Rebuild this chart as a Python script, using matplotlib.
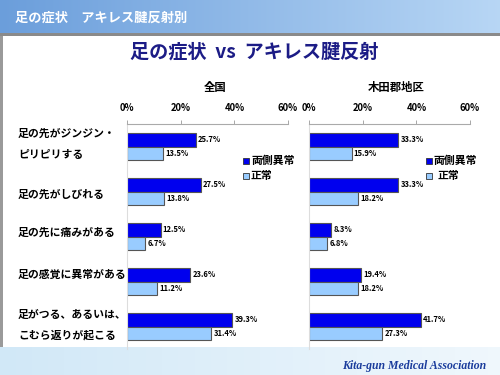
import numpy as np
import matplotlib
matplotlib.use("Agg")
import matplotlib.pyplot as plt
from matplotlib.patches import Rectangle

plt.rcParams['font.family'] = ['Noto Sans CJK JP', 'DejaVu Sans']

categories = ["足の先がジンジン・\nピリピリする", "足の先がしびれる", "足の先に痛みがある",
              "足の感覚に異常がある", "足がつる、あるいは、\nこむら返りが起こる"]
series_names = ["両側異常", "正常"]
zenkoku_abnormal = [25.7, 27.5, 12.5, 23.6, 39.3]
zenkoku_normal = [13.5, 13.8, 6.7, 11.2, 31.4]
kita_abnormal = [33.3, 33.3, 8.3, 19.4, 41.7]
kita_normal = [15.9, 18.2, 6.8, 18.2, 27.3]
panel_titles = ["全国", "木田郡地区"]
xticks = [0, 20, 40, 60]
xtick_labels = ["0%", "20%", "40%", "60%"]

dark = "#0000EE"
light = "#99CCFF"
edge = "#555555"

W, H = 500, 375
fig = plt.figure(figsize=(5, 3.75), dpi=100)

def fx(px):
    return px / W

def fy(py):
    return 1 - py / H

# Background decoration
bg = fig.add_axes([0, 0, 1, 1], zorder=-10)
bg.axis('off')
grad = np.linspace(0, 1, 256)
hdr = np.zeros((1, 256, 3))
c1 = np.array([0.42, 0.62, 0.86])
c2 = np.array([0.72, 0.84, 0.96])
for i in range(3):
    hdr[0, :, i] = c1[i] + (c2[i] - c1[i]) * grad
bg.imshow(hdr, extent=[0, W, 34, 0], aspect='auto')
bg.add_patch(Rectangle((0, 33), W, 3, color="#8a8a8a", lw=0))
bot = np.zeros((1, 256, 3))
b1 = np.array([0.82, 0.91, 0.97])
b2 = np.array([0.94, 0.97, 0.99])
for i in range(3):
    bot[0, :, i] = b1[i] + (b2[i] - b1[i]) * grad
bg.imshow(bot, extent=[0, W, H, 347], aspect='auto')
bg.add_patch(Rectangle((0, 36), W, 311, color="white", lw=0))
bg.add_patch(Rectangle((0, 36), 3, 311, color="#9a9a9a", lw=0))
bg.set_xlim(0, W)
bg.set_ylim(H, 0)

fig.text(fx(15), fy(18), "足の症状　アキレス腱反射別", color="white", fontsize=9.5,
         fontweight='bold', va='center', ha='left')
fig.text(fx(254), fy(52), "足の症状  vs  アキレス腱反射", color="#1C1C86", fontsize=13.8,
         fontweight='bold', va='center', ha='center')
fig.text(fx(486), fy(366), "Kita-gun Medical Association", color="#1a3c9c", fontsize=8.5,
         fontstyle='italic', fontweight='bold', family=['Liberation Serif', 'DejaVu Serif'],
         va='center', ha='right')

# category labels
label_y = [None, 195, 233, 275, None]
fig.text(fx(18), fy(134), "足の先がジンジン・", fontsize=7.8, fontweight='bold', va='center', ha='left')
fig.text(fx(18), fy(155), "ピリピリする", fontsize=7.8, fontweight='bold', va='center', ha='left')
for i in (1, 2, 3):
    fig.text(fx(18), fy(label_y[i]), categories[i], fontsize=7.8, fontweight='bold', va='center', ha='left')
fig.text(fx(18), fy(315), "足がつる、あるいは、", fontsize=7.8, fontweight='bold', va='center', ha='left')
fig.text(fx(18), fy(335), "こむら返りが起こる", fontsize=7.8, fontweight='bold', va='center', ha='left')

top_px, bot_px = 124, 349
panels = [
    (127, 288, zenkoku_abnormal, zenkoku_normal, panel_titles[0], 215, 243, 8),
    (309, 470, kita_abnormal, kita_normal, panel_titles[1], 396, 426, 12),
]
h = 0.31
y = np.arange(len(categories))
for (x0, x1, ab, no, title, tx, lx, gap2) in panels:
    ax = fig.add_axes([fx(x0), fy(bot_px), (x1 - x0) / W, (bot_px - top_px) / H])
    ax.patch.set_alpha(0)
    ax.barh(y - h / 2, ab, height=h, color=dark, edgecolor=edge, linewidth=0.8)
    ax.barh(y + h / 2, no, height=h, color=light, edgecolor=edge, linewidth=0.8)
    for yi, v in zip(y, ab):
        ax.text(v + 0.8, yi - h / 2, f"{v:.1f}%", fontsize=5.5, fontweight='bold',
                va='center', ha='left')
    for yi, v in zip(y, no):
        ax.text(v + 0.8, yi + h / 2, f"{v:.1f}%", fontsize=5.5, fontweight='bold',
                va='center', ha='left')
    ax.set_xlim(0, 60)
    ax.set_ylim(len(categories) - 0.5, -0.5)
    ax.xaxis.tick_top()
    ax.set_xticks(xticks)
    ax.set_xticklabels(xtick_labels, fontsize=6.8, fontweight='bold')
    ax.tick_params(axis='x', direction='out', length=3, width=0.6, color="#999999", pad=5)
    ax.set_yticks([])
    for s in ('right', 'bottom'):
        ax.spines[s].set_visible(False)
    ax.spines['top'].set_color("#aaaaaa")
    ax.spines['top'].set_linewidth(0.8)
    ax.spines['left'].set_color("#dddddd")
    ax.spines['left'].set_linewidth(0.8)
    fig.text(fx(tx), fy(88), title, fontsize=8.2, fontweight='bold', ha='center', va='center')
    for k, (name, col) in enumerate(zip(series_names, [dark, light])):
        yy = 161 + k * 15
        bg.add_patch(Rectangle((lx, yy - 3), 5.5, 6, facecolor=col, edgecolor="#333333", lw=0.6))
        fig.text(fx(lx + 8 if k == 0 else lx + gap2), fy(yy), name, fontsize=7.8,
                 fontweight='bold', va='center', ha='left')

fig.savefig("out.png", dpi=100)
